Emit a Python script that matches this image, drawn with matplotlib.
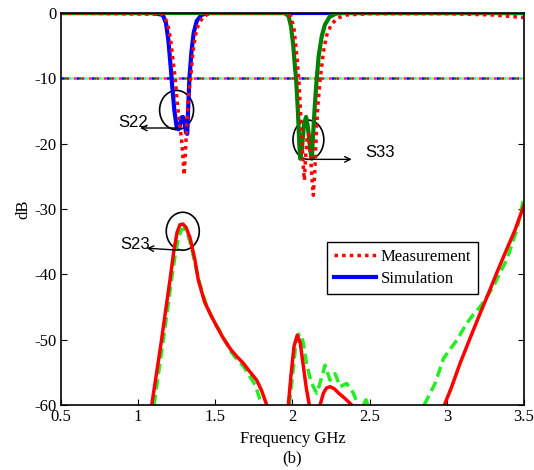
import numpy as np
import matplotlib
matplotlib.use("Agg")
import matplotlib.pyplot as plt
from matplotlib.patches import Ellipse
from matplotlib.lines import Line2D

plt.rcParams['font.family'] = ['Liberation Serif', 'DejaVu Serif']
plt.rcParams['axes.unicode_minus'] = False

# S22 simulation (blue)
s22_sim_f = [0.5, 1.10, 1.16, 1.18, 1.195, 1.21, 1.22, 1.235, 1.25, 1.262, 1.27, 1.28, 1.29,
             1.30, 1.31, 1.318, 1.325, 1.332, 1.345, 1.36, 1.38, 1.41, 1.45, 3.5]
s22_sim_db = [0, 0, -0.3, -1.5, -4, -8, -11, -15, -17.5, -17.8, -17.3, -16.0, -15.9,
              -16.8, -18.3, -18.5, -14, -10, -6, -3, -1.2, -0.3, 0, 0]

# S33 simulation (dark green)
s33_sim_f = [0.5, 1.95, 1.975, 1.99, 2.005, 2.015, 2.023, 2.035, 2.045, 2.05, 2.06, 2.075, 2.088,
             2.10, 2.115, 2.125, 2.135, 2.145, 2.157, 2.17, 2.19, 2.21, 2.24, 2.28, 2.32, 3.5]
s33_sim_db = [0, 0, -0.5, -2, -5, -8, -10, -15, -20.5, -22.3, -21, -17, -15.9,
              -17.5, -21, -22.3, -18, -14, -10, -6.5, -3.5, -1.8, -0.6, -0.1, 0, 0]

# S22 / S33 measurement (red dotted)
meas_f = [0.5, 1.16, 1.19, 1.21, 1.23, 1.24, 1.255, 1.27, 1.28, 1.29, 1.298, 1.305, 1.315, 1.325,
          1.34, 1.355, 1.37, 1.39, 1.42, 1.46, 1.5, 1.95, 1.99, 2.01, 2.03, 2.04, 2.05, 2.06, 2.07,
          2.077, 2.085, 2.095, 2.105, 2.115, 2.125, 2.135, 2.145, 2.155, 2.165, 2.18, 2.2, 2.22,
          2.25, 2.29, 2.35, 2.5, 3.0, 3.3, 3.5]
meas_db = [0, -0.2, -1.5, -4, -8, -10, -14, -17.5, -19, -22, -24.8, -22, -17, -13,
           -10, -6, -3.5, -1.8, -0.6, -0.1, 0, 0, -0.5, -2.5, -7, -10, -14, -19, -23.5,
           -25.6, -22, -19, -18.5, -21, -25, -27.9, -24, -18, -14, -10, -6, -3.5,
           -1.8, -0.8, -0.3, -0.1, -0.1, -0.3, -0.7]

# S23 red solid
s23_red_f = [1.088, 1.12, 1.15, 1.18, 1.206, 1.232, 1.252, 1.271, 1.29, 1.31, 1.336, 1.368, 1.39,
             1.43, 1.466, 1.51, 1.552, 1.60, 1.64, 1.681, 1.72, 1.768, 1.80, 1.833, np.nan,
             1.973, 1.99, 2.01, 2.031, 2.05, 2.07, 2.09, 2.109, np.nan,
             2.179, 2.20, 2.22, 2.243, 2.27, 2.30, 2.34, 2.384, np.nan,
             2.984, 3.03, 3.086, 3.15, 3.215, 3.27, 3.323, 3.38, 3.442, 3.5]
s23_red_db = [-60, -55, -50.3, -45.2, -40.9, -36.3, -33.6, -32.4, -32.3, -32.8, -34.4, -37.8, -40.9,
              -44.2, -46.0, -48.0, -49.8, -51.5, -52.6, -53.6, -54.8, -56.2, -57.8, -60, np.nan,
              -60, -55.5, -51, -49.3, -50.5, -54, -57.5, -60, np.nan,
              -60, -58.2, -57.4, -57.2, -57.5, -58.2, -59, -60, np.nan,
              -60, -57.3, -53.6, -49.8, -46.0, -42.9, -39.8, -36.6, -33.2, -29.4]

# S23 green dashed
s23_grn_f = [1.103, 1.13, 1.16, 1.19, 1.215, 1.24, 1.26, 1.28, 1.30, 1.32, 1.345, 1.37, 1.40,
             1.44, 1.48, 1.52, 1.56, 1.60, 1.64, 1.68, 1.72, 1.76, 1.80, np.nan,
             1.98, 2.00, 2.02, 2.04, 2.053, 2.07, 2.09, 2.12, 2.157, 2.18, 2.211, 2.243, 2.276,
             2.308, 2.351, 2.39, 2.427, np.nan, 2.46, 2.476, 2.49, np.nan,
             2.853, 2.924, 2.978, 3.02, 3.064, 3.129, 3.17, 3.215, 3.26, 3.301, 3.35, 3.388,
             3.453, 3.5]
s23_grn_db = [-60, -55.5, -50.5, -45.5, -41, -37, -34.6, -33.2, -33.0, -33.8, -35.8, -38.6, -41.5,
              -44.5, -46.8, -48.3, -50, -51.8, -53, -54, -55.5, -57, -60, np.nan,
              -60, -55.5, -51, -49.2, -49.1, -50.5, -53.5, -56.5, -58.2, -56.5, -53.9, -56.2, -55.2,
              -57.2, -56.7, -58, -60, np.nan, -60, -59.2, -60, np.nan,
              -60, -56.7, -52.9, -51.5, -50.1, -47.5, -46.2, -45.0, -43.4, -41.9, -39.5, -37.8,
              -33.2, -28.2]

ref_level = -10

fig = plt.figure(figsize=(5.34, 4.70), dpi=100)
ax = fig.add_axes([0.1142, 0.1383, 0.8671, 0.834])

# -10 dB reference line, multi-coloured dots
ref_colors = ['blue', 'magenta', '#e0e000', 'cyan', 'red', 'green']
for i, c in enumerate(ref_colors):
    ax.plot([0.5, 3.5], [ref_level, ref_level], color=c, lw=1.8,
            linestyle=(i * 1.0, (1.0, 5.0)), solid_capstyle='butt')

ax.plot(s22_sim_f, s22_sim_db, color='blue', lw=3)
ax.plot(s33_sim_f, s33_sim_db, color='green', lw=3)
ax.plot(meas_f, meas_db, color='red', lw=2.5, linestyle=(0, (1.0, 1.2)))

ax.plot(s23_grn_f, s23_grn_db, color='#22ee22', lw=2.5, linestyle=(0, (3, 1.5)))
ax.plot(s23_red_f, s23_red_db, color='red', lw=2.5)

# circles and arrows
for cx, cy, w, h in [(1.249, -14.85, 0.22, 6.0), (2.103, -19.4, 0.20, 6.0), (1.289, -33.4, 0.214, 5.8)]:
    ax.add_patch(Ellipse((cx, cy), w, h, fill=False, ec='black', lw=1.2))

arrow = dict(arrowstyle='->', color='black', lw=1, shrinkA=0, shrinkB=0)
ax.annotate('', xy=(1.012, -17.6), xytext=(1.258, -17.6), arrowprops=arrow)
ax.annotate('', xy=(2.384, -22.4), xytext=(2.114, -22.4), arrowprops=arrow)
ax.annotate('', xy=(1.055, -36.0), xytext=(1.26, -36.3), arrowprops=arrow)

sans = ['Liberation Sans', 'DejaVu Sans']
ax.text(0.869, -16.8, 'S22', family=sans, fontsize=12, va='center', ha='left')
ax.text(2.47, -21.4, 'S33', family=sans, fontsize=12, va='center', ha='left')
ax.text(0.882, -35.5, 'S23', family=sans, fontsize=12, va='center', ha='left')

handles = [Line2D([], [], color='red', lw=2.5, linestyle=(0, (1.0, 1.2))),
           Line2D([], [], color='blue', lw=3)]
leg = ax.legend(handles, ['Measurement', 'Simulation'], loc='upper left',
                bbox_to_anchor=(0.575, 0.416), borderaxespad=0, fontsize=12,
                fancybox=False, framealpha=1, edgecolor='black', handlelength=2.5,
                handletextpad=0.3, borderpad=0.4, labelspacing=0.4)
leg.get_frame().set_linewidth(1)

ax.set_xlim(0.5, 3.5)
ax.set_ylim(-60, 0)
ax.set_xticks(np.arange(0.5, 3.51, 0.5))
ax.set_xticklabels(['0.5', '1', '1.5', '2', '2.5', '3', '3.5'])
ax.set_yticks(np.arange(-60, 1, 10))
ax.tick_params(direction='in', length=4, labelsize=12, top=False, right=True, pad=3)
for s in ax.spines.values():
    s.set_linewidth(1.2)
ax.set_xlabel('Frequency GHz\n(b)', fontsize=12, labelpad=4, linespacing=1.3)
ax.set_ylabel('dB', fontsize=12, labelpad=2)

fig.savefig('out.png', dpi=100)
